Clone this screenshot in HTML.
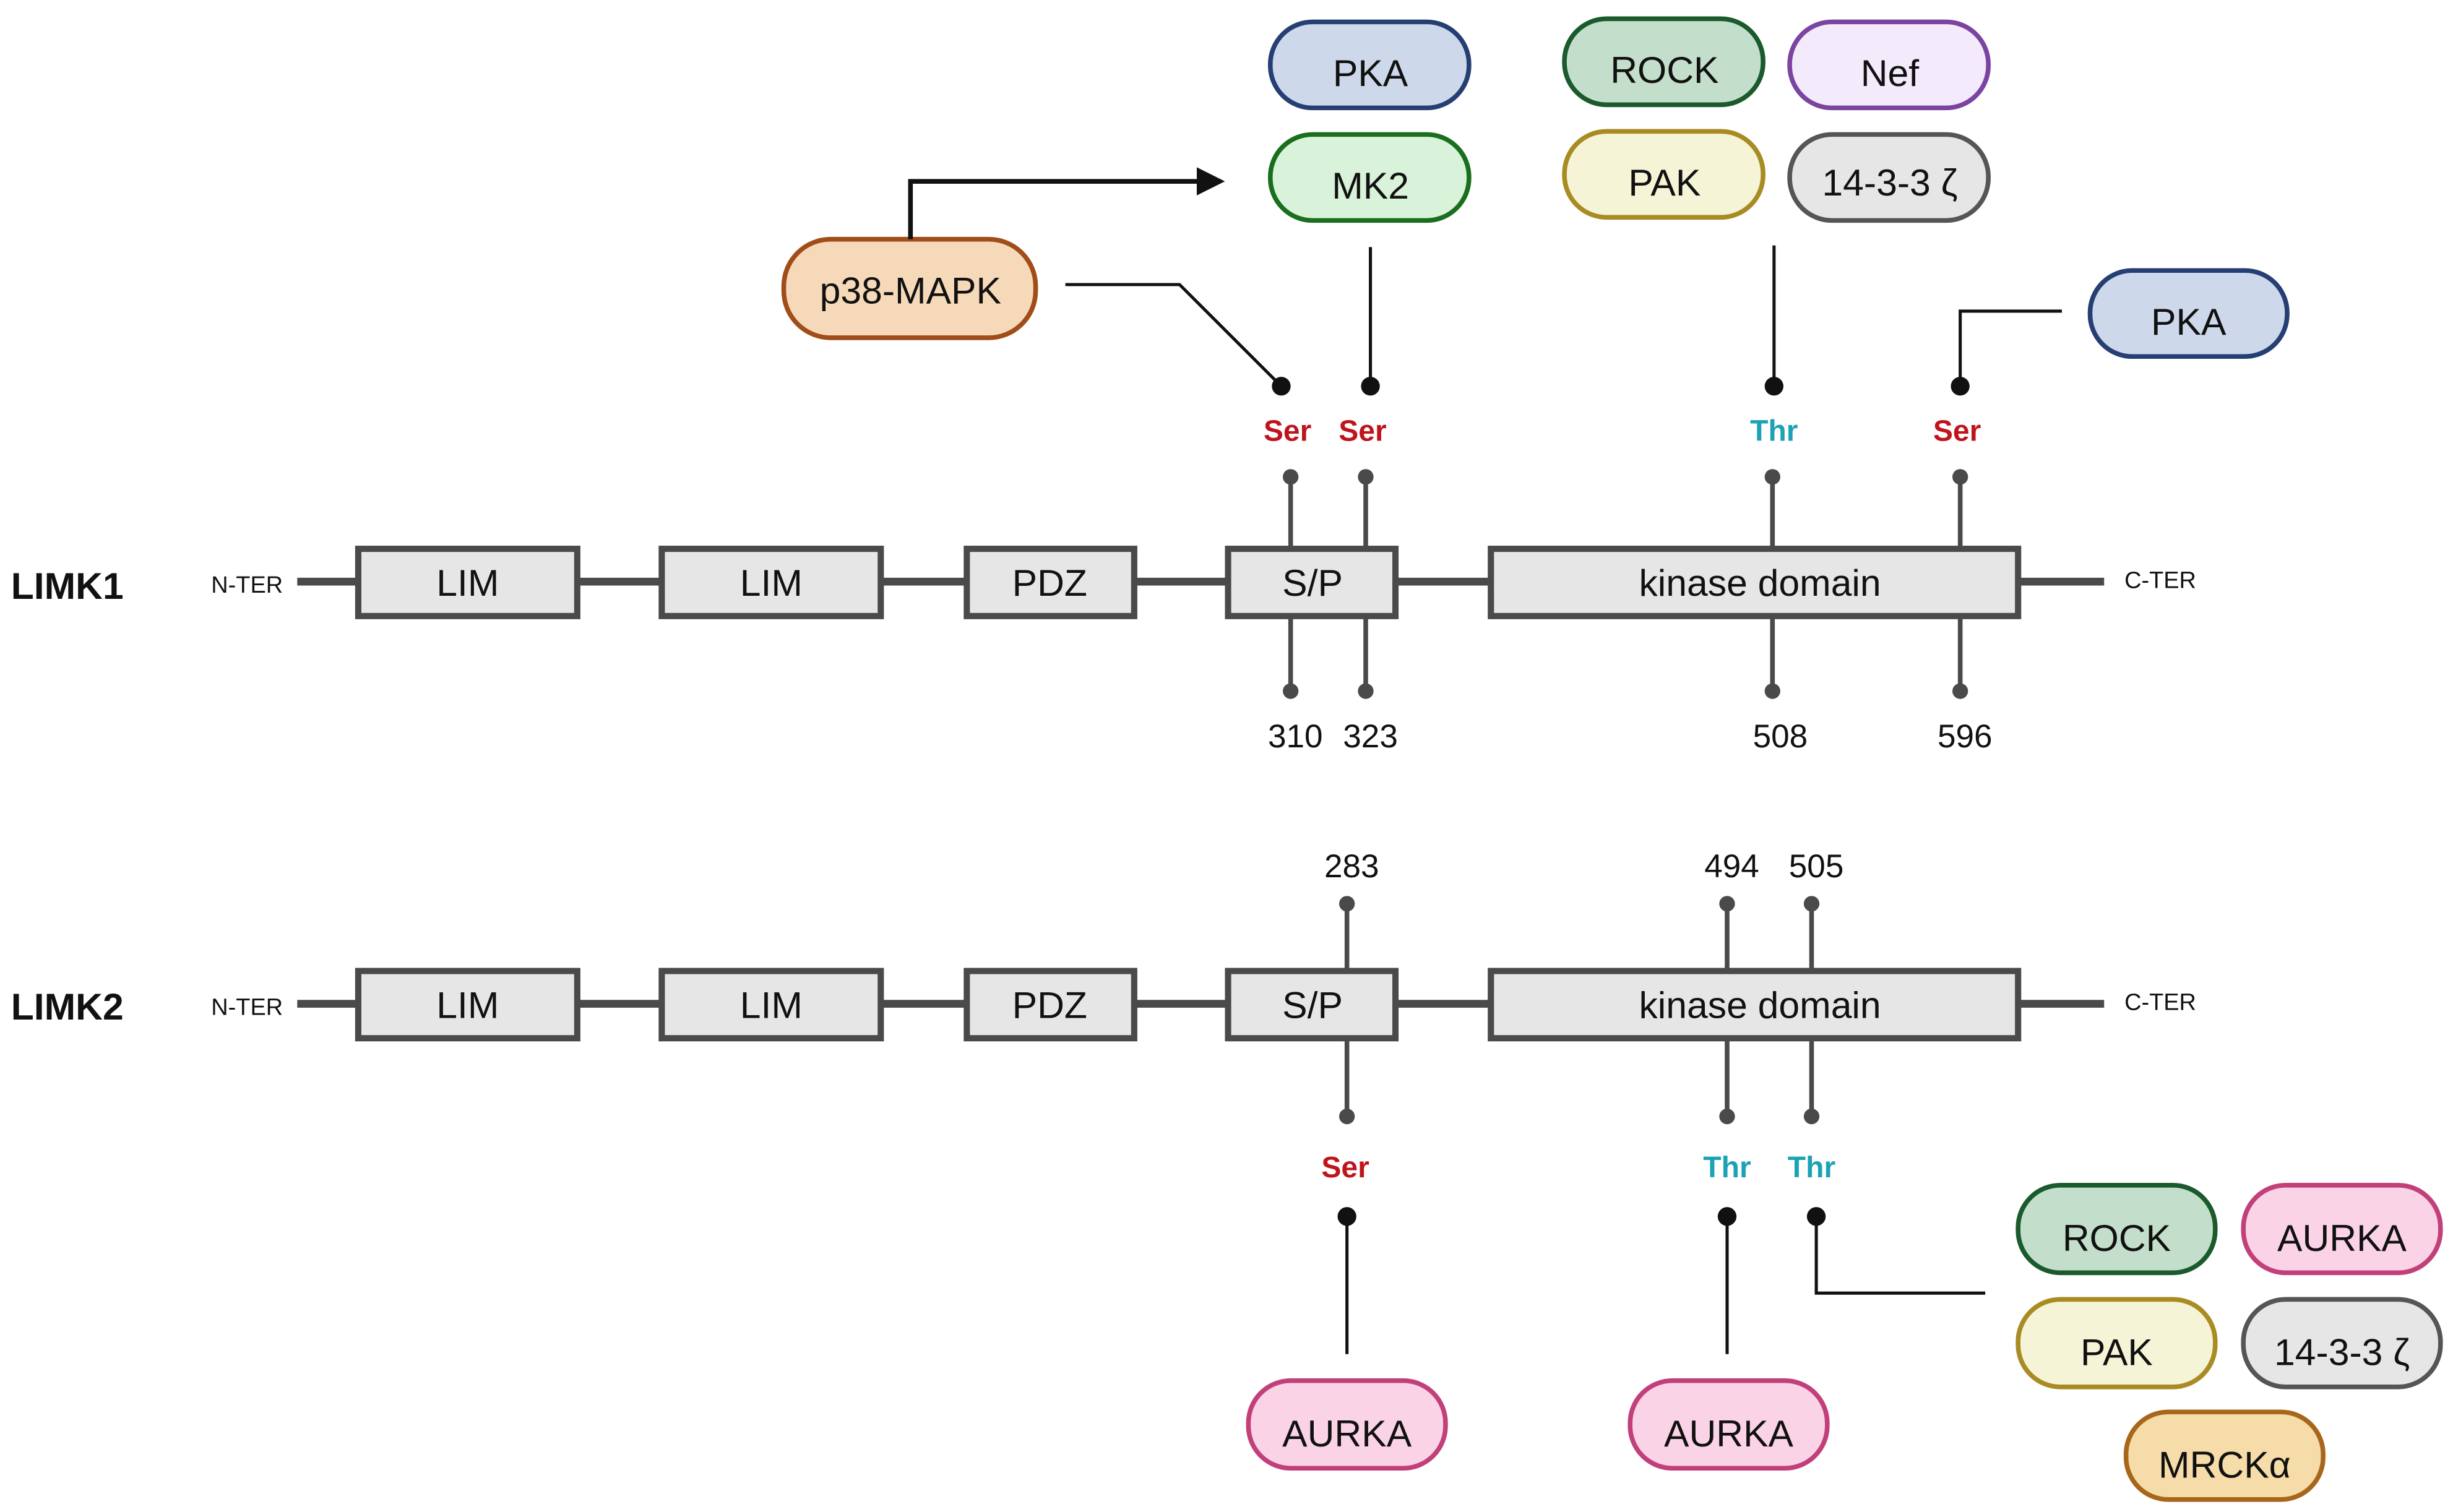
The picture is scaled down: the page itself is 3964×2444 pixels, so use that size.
<!DOCTYPE html>
<html><head><meta charset="utf-8"><style>html,body{margin:0;padding:0;background:#fff}svg{display:block}</style></head>
<body>
<svg width="3964" height="2444" viewBox="0 0 1568 967" preserveAspectRatio="none" xmlns="http://www.w3.org/2000/svg" font-family="Liberation Sans, sans-serif">
<rect width="1568" height="967" fill="#fff"/>
<g stroke-width="3">
<rect x="812" y="14" width="127" height="55" rx="27" fill="#cdd8ea" stroke="#263f73"/>
<rect x="812" y="86" width="127" height="55" rx="27" fill="#d8f3d9" stroke="#1b6e1e"/>
<rect x="1000" y="12" width="127" height="55" rx="27" fill="#c3dfcb" stroke="#1a5a2c"/>
<rect x="1144" y="14" width="127" height="55" rx="27" fill="#f3ebfb" stroke="#7a44a0"/>
<rect x="1000" y="84" width="127" height="55" rx="27" fill="#f6f4d6" stroke="#a88c23"/>
<rect x="1144" y="86" width="127" height="55" rx="27" fill="#e6e6e6" stroke="#555"/>
<rect x="501" y="153" width="161" height="63" rx="30" fill="#f6d9b8" stroke="#a04d19"/>
<rect x="1336" y="173" width="126" height="55" rx="27" fill="#cdd8ea" stroke="#263f73"/>
<rect x="798" y="883" width="126" height="56" rx="27" fill="#fbd3e6" stroke="#c2407a"/>
<rect x="1042" y="883" width="126" height="56" rx="27" fill="#fbd3e6" stroke="#c2407a"/>
<rect x="1290" y="758" width="126" height="56" rx="27" fill="#c3dfcb" stroke="#1a5a2c"/>
<rect x="1434" y="758" width="126" height="56" rx="27" fill="#fbd3e6" stroke="#c2407a"/>
<rect x="1290" y="831" width="126" height="56" rx="27" fill="#f6f4d6" stroke="#a88c23"/>
<rect x="1434" y="831" width="126" height="56" rx="27" fill="#e6e6e6" stroke="#555"/>
<rect x="1359" y="903" width="126" height="56" rx="27" fill="#f5dca8" stroke="#a8661b"/>
</g>
<g font-size="24" text-anchor="middle" fill="#111">
<text x="876" y="55">PKA</text><text x="876" y="127">MK2</text>
<text x="1064" y="53">ROCK</text><text x="1208" y="55">Nef</text>
<text x="1064" y="125">PAK</text><text x="1208" y="125">14-3-3 ζ</text>
<text x="582" y="194">p38-MAPK</text><text x="1399" y="214">PKA</text>
<text x="861" y="925">AURKA</text><text x="1105" y="925">AURKA</text>
<text x="1353" y="800">ROCK</text><text x="1497" y="800">AURKA</text>
<text x="1353" y="873">PAK</text><text x="1497" y="873">14-3-3 ζ</text>
<text x="1422" y="945">MRCKα</text>
</g>
<!-- connectors -->
<g stroke="#111" stroke-width="2" fill="none">
<polyline points="582,153 582,116 768,116" stroke-width="3"/>
<polyline points="681,182 754,182 819,247"/>
<line x1="876" y1="158" x2="876" y2="247"/>
<line x1="1134" y1="157" x2="1134" y2="247"/>
<polyline points="1318,199 1253,199 1253,247"/>
<line x1="861" y1="778" x2="861" y2="866"/>
<line x1="1104" y1="778" x2="1104" y2="866"/>
<polyline points="1161,778 1161,827 1269,827"/>
</g>
<polygon points="765,107 783,116 765,125" fill="#111"/>
<g fill="#111">
<circle cx="819" cy="247" r="6"/><circle cx="876" cy="247" r="6"/><circle cx="1134" cy="247" r="6"/><circle cx="1253" cy="247" r="6"/>
<circle cx="861" cy="778" r="6"/><circle cx="1104" cy="778" r="6"/><circle cx="1161" cy="778" r="6"/>
</g>
<g font-size="19" font-weight="bold" text-anchor="middle">
<text x="823" y="282" fill="#c0141c">Ser</text><text x="871" y="282" fill="#c0141c">Ser</text>
<text x="1134" y="282" fill="#1ba2b5">Thr</text><text x="1251" y="282" fill="#c0141c">Ser</text>
<text x="860" y="753" fill="#c0141c">Ser</text><text x="1104" y="753" fill="#1ba2b5">Thr</text><text x="1158" y="753" fill="#1ba2b5">Thr</text>
</g>
<!-- sticks -->
<g stroke="#4a4a4a" stroke-width="3">
<line x1="825" y1="305" x2="825" y2="442"/><line x1="873" y1="305" x2="873" y2="442"/>
<line x1="1133" y1="305" x2="1133" y2="442"/><line x1="1253" y1="305" x2="1253" y2="442"/>
<line x1="861" y1="578" x2="861" y2="714"/>
<line x1="1104" y1="578" x2="1104" y2="714"/><line x1="1158" y1="578" x2="1158" y2="714"/>
<line x1="190" y1="372" x2="1345" y2="372" stroke-width="5"/>
<line x1="190" y1="642" x2="1345" y2="642" stroke-width="5"/>
</g>
<g fill="#4a4a4a">
<circle cx="825" cy="305" r="5"/><circle cx="873" cy="305" r="5"/><circle cx="1133" cy="305" r="5"/><circle cx="1253" cy="305" r="5"/>
<circle cx="825" cy="442" r="5"/><circle cx="873" cy="442" r="5"/><circle cx="1133" cy="442" r="5"/><circle cx="1253" cy="442" r="5"/>
<circle cx="861" cy="578" r="5"/><circle cx="1104" cy="578" r="5"/><circle cx="1158" cy="578" r="5"/>
<circle cx="861" cy="714" r="5"/><circle cx="1104" cy="714" r="5"/><circle cx="1158" cy="714" r="5"/>
</g>
<g fill="#e6e6e6" stroke="#4a4a4a" stroke-width="4">
<rect x="229" y="351" width="140" height="43"/><rect x="423" y="351" width="140" height="43"/>
<rect x="618" y="351" width="107" height="43"/><rect x="785" y="351" width="107" height="43"/>
<rect x="953" y="351" width="337" height="43"/>
<rect x="229" y="621" width="140" height="43"/><rect x="423" y="621" width="140" height="43"/>
<rect x="618" y="621" width="107" height="43"/><rect x="785" y="621" width="107" height="43"/>
<rect x="953" y="621" width="337" height="43"/>
</g>
<g font-size="24" text-anchor="middle" fill="#111">
<text x="299" y="381">LIM</text><text x="493" y="381">LIM</text><text x="671" y="381">PDZ</text><text x="839" y="381">S/P</text><text x="1125" y="381">kinase domain</text>
<text x="299" y="651">LIM</text><text x="493" y="651">LIM</text><text x="671" y="651">PDZ</text><text x="839" y="651">S/P</text><text x="1125" y="651">kinase domain</text>
</g>
<g font-size="21" text-anchor="middle" fill="#111">
<text x="828" y="478">310</text><text x="876" y="478">323</text><text x="1138" y="478">508</text><text x="1256" y="478">596</text>
<text x="864" y="561">283</text><text x="1107" y="561">494</text><text x="1161" y="561">505</text>
</g>
<g font-size="24" font-weight="bold" fill="#111">
<text x="7" y="383">LIMK1</text><text x="7" y="652">LIMK2</text>
</g>
<g font-size="15" fill="#111">
<text x="135" y="379">N-TER</text><text x="1358" y="376">C-TER</text>
<text x="135" y="649">N-TER</text><text x="1358" y="646">C-TER</text>
</g>
</svg>
</body></html>
